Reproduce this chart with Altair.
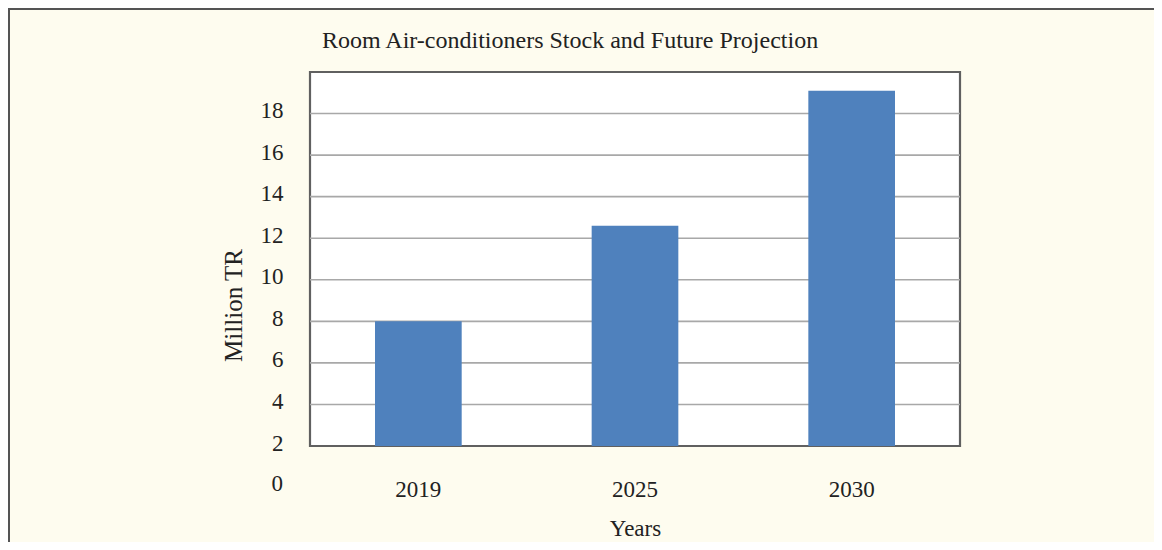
import altair as alt
import pandas as pd

years = ["2019", "2025", "2030"]
stock = [8.0, 12.6, 19.1]
grid_values = [4, 6, 8, 10, 12, 14, 16, 18]
tick_values = [2, 4, 6, 8, 10, 12, 14, 16, 18]
extra_label = [0]

FONT = "Liberation Serif"
TXT = "#222222"
FS = 23

bars_df = pd.DataFrame({"Year": years, "Stock": stock})
grid_df = pd.DataFrame({"g": grid_values})
zero_df = pd.DataFrame({"v": extra_label})

yscale = alt.Scale(domain=[2, 20], nice=False, zero=False)

bars = alt.Chart(bars_df).mark_bar(color="#4F81BD").encode(
    x=alt.X("Year:N", sort=years,
            scale=alt.Scale(paddingInner=0.6, paddingOuter=0.3),
            axis=alt.Axis(title="Years", labelAngle=0, domain=False, ticks=False,
                          labelPadding=32, titlePadding=16,
                          labelFont=FONT, labelFontSize=FS, labelColor=TXT,
                          titleFont=FONT, titleFontSize=FS, titleColor=TXT,
                          titleFontWeight="normal")),
    y=alt.Y("Stock:Q", scale=yscale,
            axis=alt.Axis(title="Million TR", values=tick_values, grid=False,
                          domain=False, ticks=False, labelPadding=27,
                          labelOffset=-3,
                          labelFont=FONT, labelFontSize=FS, labelColor=TXT,
                          titleFont=FONT, titleFontSize=25, titleColor=TXT,
                          titleFontWeight="normal", titleX=-77, titleY=233,
                          titleBaseline="middle")),
    y2=alt.datum(2),
)

grid = alt.Chart(grid_df).mark_rule(color="#A8A8A8", strokeWidth=1.6).encode(
    y=alt.Y("g:Q", scale=yscale)
)

# the "0" tick label that the original draws below the axis line
zero_label = alt.Chart(zero_df).mark_text(
    font=FONT, fontSize=FS, color=TXT, align="right", baseline="middle", dy=-4
).encode(
    y=alt.Y("v:Q", scale=yscale),
    x=alt.value(-27),
    text=alt.Text("v:Q"),
)

# decorative outer frame (top and left edges of the panel)
frame_top = alt.Chart(grid_df).mark_rule(color="#555555", strokeWidth=1.5).encode(
    x=alt.value(-302), x2=alt.value(900), y=alt.value(-63)
)
frame_left = alt.Chart(grid_df).mark_rule(color="#555555", strokeWidth=1.5).encode(
    x=alt.value(-301), y=alt.value(-63), y2=alt.value(470)
)

chart = alt.layer(frame_top, frame_left, grid, bars, zero_label).properties(
    width=650,
    height=374,
    padding={"left": 302, "top": 64, "right": 194, "bottom": 96},
    autosize=alt.AutoSizeParams(type="none"),
    title=alt.TitleParams(
        "Room Air-conditioners Stock and Future Projection",
        font=FONT, fontSize=24, fontWeight="normal", color=TXT,
        anchor="start", frame="group", dx=12, offset=-64, baseline="alphabetic",
    ),
).configure(
    background="#FEFCEF",
).configure_view(
    fill="white", stroke="#606060", strokeWidth=2.2,
)

chart.save("out.html", embed_options={"renderer": "svg", "actions": False})
